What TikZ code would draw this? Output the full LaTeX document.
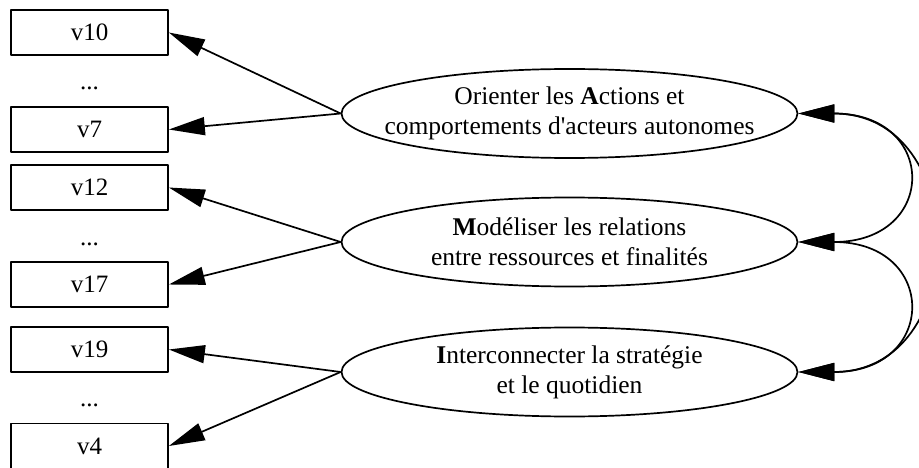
\documentclass[tikz,border=0pt]{standalone}
\usepackage{fontspec}
\setmainfont{Liberation Serif}
\usetikzlibrary{arrows.meta,shapes.geometric}
\tikzset{>={Triangle[length=36pt,width=18pt]}}

\begin{document}
\begin{tikzpicture}[x=1pt, y=-1pt, line width=1.7pt, line join=round,
    vbox/.style={draw, minimum width=157pt, minimum height=45pt, inner sep=0pt, font=\fontsize{25}{30}\selectfont},
    vdots/.style={inner sep=0pt, font=\fontsize{25}{30}\selectfont},
    goal/.style={draw, ellipse, minimum width=456pt, minimum height=89pt, inner sep=0pt},
    goaltext/.style={align=center, inner sep=0pt, font=\fontsize{25.5}{30}\selectfont}]
    \useasboundingbox (0,0) rectangle (919,468);

    % variables
    \node[vbox] (v10) at (89.5,32.5) {v10};
    \node[vdots] (d1) at (89.5,88) {...};
    \node[vbox] (v7) at (89.5,129.5) {v7};
    \node[vbox] (v12) at (89.5,187.5) {v12};
    \node[vdots] (d2) at (89.5,244) {...};
    \node[vbox] (v17) at (89.5,284.5) {v17};
    \node[vbox] (v19) at (89.5,349.5) {v19};
    \node[vdots] (d3) at (89.5,405) {...};
    \node[vbox] (v4) at (89.5,446) {v4};

    % goals
    \node[goal, label={[goaltext]center:Orienter les \textbf{A}ctions et\\comportements d\textquotesingle acteurs autonomes}] (ga) at (569.5,113.5) {};
    \node[goal, label={[goaltext]center:\textbf{M}odéliser les relations\\entre ressources et finalités}] (gm) at (569.5,242) {};
    \node[goal, label={[goaltext]center:\textbf{I}nterconnecter la stratégie\\et le quotidien}] (gi) at (569.5,372) {};

    \draw[->] (ga.west) -- (v10.east);
    \draw[->] (ga.west) -- (v7.east);
    \draw[->] (gm.west) -- (v12.east);
    \draw[->] (gm.west) -- (v17.east);
    \draw[->] (gi.west) -- (v19.east);
    \draw[->] (gi.west) -- (v4.east);

    \draw[<->] (ga.east) .. controls +(140,0) and +(140,0) .. (gm.east);
    \draw[<->] (gm.east) .. controls +(140,0) and +(140,0) .. (gi.east);
    \draw[<->] (ga.east) .. controls +(174,0) and +(174,0) .. (gi.east);
\end{tikzpicture}
\end{document}
